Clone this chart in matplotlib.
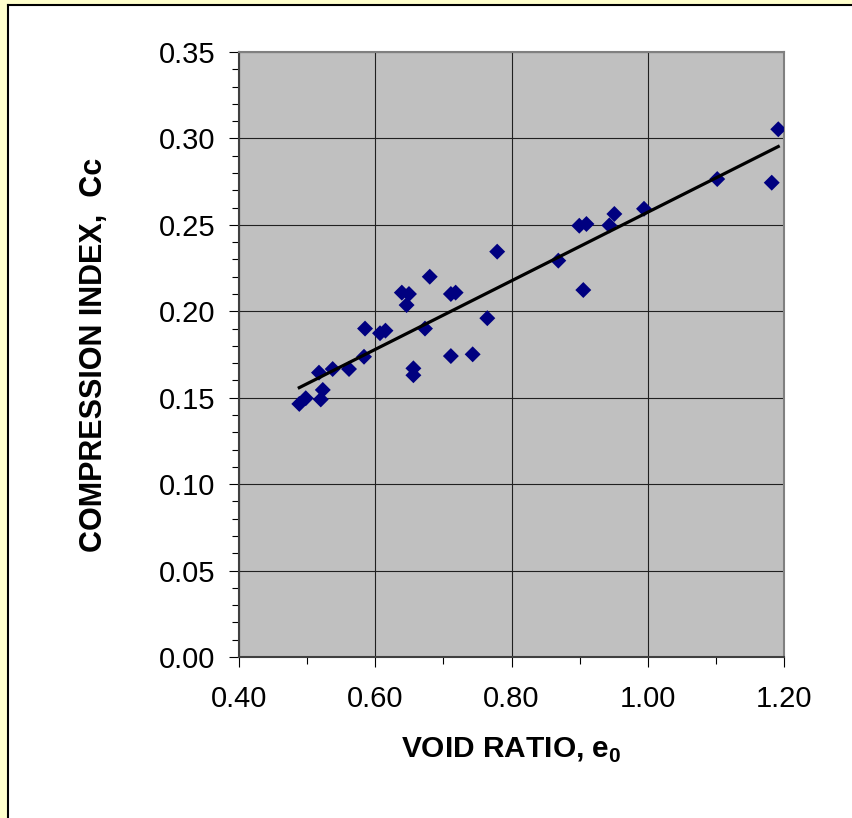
import matplotlib
matplotlib.use("Agg")
import matplotlib.pyplot as plt
import numpy as np
from matplotlib.ticker import MultipleLocator, FormatStrFormatter
from matplotlib.lines import Line2D

plt.rcParams['font.family'] = ['Liberation Sans', 'DejaVu Sans']
plt.rcParams['mathtext.fontset'] = 'custom'
plt.rcParams['mathtext.rm'] = 'Liberation Sans'
plt.rcParams['mathtext.bf'] = 'Liberation Sans:bold'

# Data
void_ratio = [0.779, 0.680, 0.639, 0.6495, 0.646, 0.711, 0.718, 0.7645,
              0.585, 0.607, 0.615, 0.673, 0.5835, 0.711, 0.743, 0.656,
              0.656, 0.5174, 0.5375, 0.5615, 0.523, 0.520, 0.4885, 0.498,
              1.1916, 1.182, 1.102, 0.9945, 0.951, 0.9436, 0.8995, 0.910,
              0.8687, 0.9054]
compression_index = [0.2345, 0.220, 0.2108, 0.210, 0.2036, 0.210, 0.2108, 0.196,
                     0.190, 0.1873, 0.1888, 0.190, 0.1737, 0.1741, 0.1751, 0.167,
                     0.163, 0.1645, 0.1666, 0.1666, 0.1545, 0.149, 0.1464, 0.1497,
                     0.3053, 0.2744, 0.2765, 0.2593, 0.2563, 0.2497, 0.2495, 0.2505,
                     0.2293, 0.2123]

x_ticks = [0.40, 0.60, 0.80, 1.00, 1.20]
y_ticks = [0.00, 0.05, 0.10, 0.15, 0.20, 0.25, 0.30, 0.35]

W, H = 852, 818
fig = plt.figure(figsize=(W / 100, H / 100), dpi=100)
fig.patch.set_facecolor('white')

# Outer frame: yellow strip at left/top and black border
fig.add_artist(plt.Rectangle((0, 0), 7 / W, 1, transform=fig.transFigure,
                             facecolor='#FFFFCC', edgecolor='none', zorder=0))
fig.add_artist(plt.Rectangle((0, 1 - 4 / H), 1, 4 / H, transform=fig.transFigure,
                             facecolor='#FFFFCC', edgecolor='none', zorder=0))
fig.add_artist(Line2D([7.5 / W, 7.5 / W], [0, 1 - 4.5 / H], transform=fig.transFigure,
                      color='black', lw=1.5))
fig.add_artist(Line2D([7.5 / W, 1], [1 - 4.5 / H, 1 - 4.5 / H], transform=fig.transFigure,
                      color='black', lw=1.5))

ax = fig.add_axes([239 / W, 161 / H, 545 / W, 605 / H])
ax.set_facecolor('#C0C0C0')

ax.set_xlim(0.40, 1.20)
ax.set_ylim(0.00, 0.35)
ax.set_xticks(x_ticks)
ax.set_yticks(y_ticks)
ax.xaxis.set_minor_locator(MultipleLocator(0.1))
ax.yaxis.set_minor_locator(MultipleLocator(0.01))
ax.xaxis.set_major_formatter(FormatStrFormatter('%.2f'))
ax.yaxis.set_major_formatter(FormatStrFormatter('%.2f'))

ax.grid(True, which='major', color='#202020', linewidth=0.8)
ax.set_axisbelow(True)

ax.tick_params(axis='both', which='major', direction='out', length=7, width=0.8,
               labelsize=21, color='black')
ax.tick_params(axis='both', which='minor', direction='out', length=5, width=0.8,
               color='black')
ax.tick_params(axis='x', which='major', pad=13)
ax.tick_params(axis='y', which='major', pad=10)

for s in ['top', 'right']:
    ax.spines[s].set_color('#808080')
    ax.spines[s].set_linewidth(1.5)
for s in ['left', 'bottom']:
    ax.spines[s].set_color('#404040')
    ax.spines[s].set_linewidth(1.5)

x = np.array(void_ratio)
y = np.array(compression_index)
ax.scatter(x, y, marker='D', s=66, color='#000080', edgecolors='none', zorder=3)

slope, intercept = np.polyfit(x, y, 1)
xl = np.array([x.min(), x.max()])
ax.plot(xl, slope * xl + intercept, color='black', lw=2.3, zorder=4)

ax.set_xlabel(r'VOID RATIO, e$_\mathbf{0}$', fontsize=21.5, fontweight='bold', labelpad=17)
ax.set_ylabel('COMPRESSION INDEX,  Cc', fontsize=22, fontweight='bold', labelpad=36)

fig.savefig('out.png', dpi=100, facecolor=fig.get_facecolor())
